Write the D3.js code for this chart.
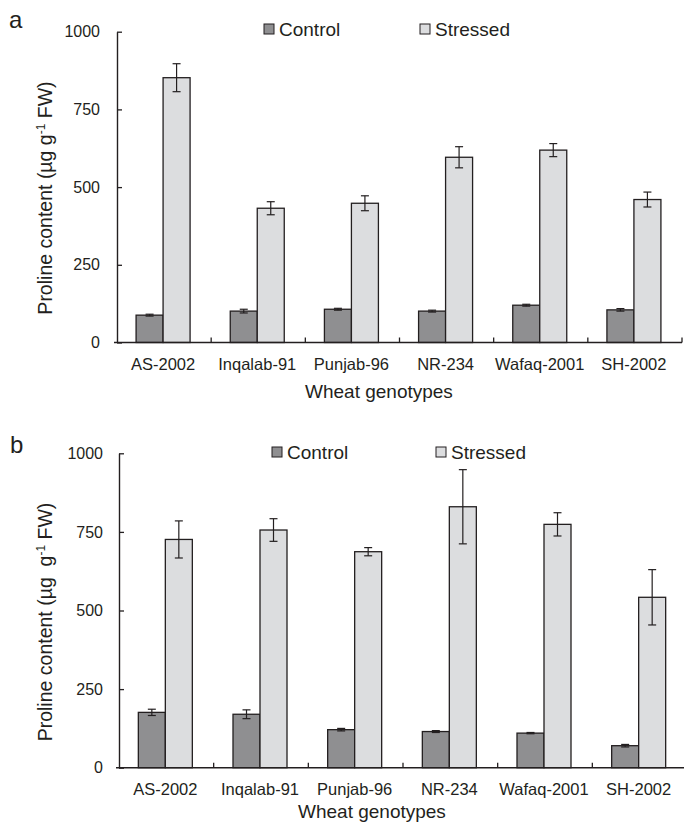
<!DOCTYPE html>
<html>
<head>
<meta charset="utf-8">
<script src="https://cdn.jsdelivr.net/npm/d3@7"></script>
<style>
html,body{margin:0;padding:0;background:#fff;}
svg{display:block;}
text{font-family:"Liberation Sans",Arial,sans-serif;fill:#231f20;}
</style>
</head>
<body>
<svg id="chart" width="684" height="824"></svg>
<script>
const categories = ["AS-2002","Inqalab-91","Punjab-96","NR-234","Wafaq-2001","SH-2002"];
const seriesNames = ["Control","Stressed"];
const yTicks = [0,250,500,750,1000];

// Panel a
const controlA = [88, 101, 107, 101, 120, 105];
const controlAErr = [3, 6, 3, 3, 3, 4];
const stressedA = [852, 432, 448, 596, 619, 460];
const stressedAErr = [45, 21, 24, 34, 21, 24];

// Panel b
const controlB = [176, 170, 121, 115, 110, 70];
const controlBErr = [10, 14, 4, 3, 2, 4];
const stressedB = [726, 756, 687, 830, 774, 542];
const stressedBErr = [59, 36, 13, 118, 37, 88];

const colors = {Control:"#8f8f91", Stressed:"#dcdddf"};
const ink = "#231f20";
const svg = d3.select("#chart");

function panel(cfg){
  const g = svg.append("g");
  const x = d3.scaleBand().domain(categories).range([cfg.x0, cfg.x1]).padding(0);
  const y = d3.scaleLinear().domain([0,1000]).range([cfg.y0, cfg.y1]);
  const xs = d3.scaleBand().domain(seriesNames).range([-27,27]).padding(0);

  const rows = categories.map((c,i)=>({
    cat:c,
    vals:[
      {s:"Control", v:cfg.control[i], e:cfg.controlErr[i]},
      {s:"Stressed", v:cfg.stressed[i], e:cfg.stressedErr[i]}
    ]
  }));

  const cg = g.selectAll("g.cat").data(rows).join("g")
    .attr("transform", d=>`translate(${x(d.cat)+x.bandwidth()/2 - 1},0)`);

  cg.selectAll("rect").data(d=>d.vals).join("rect")
    .attr("x", d=>xs(d.s))
    .attr("width", xs.bandwidth())
    .attr("y", d=>y(d.v))
    .attr("height", d=>y(0)-y(d.v))
    .attr("fill", d=>colors[d.s])
    .attr("stroke", ink).attr("stroke-width",1.3);

  const eb = cg.selectAll("g.eb").data(d=>d.vals).join("g")
    .attr("stroke", ink).attr("stroke-width",1.2);
  eb.append("line")
    .attr("x1", d=>xs(d.s)+xs.bandwidth()/2).attr("x2", d=>xs(d.s)+xs.bandwidth()/2)
    .attr("y1", d=>y(d.v+d.e)).attr("y2", d=>y(d.v-d.e));
  eb.append("line")
    .attr("x1", d=>xs(d.s)+xs.bandwidth()/2-4).attr("x2", d=>xs(d.s)+xs.bandwidth()/2+4)
    .attr("y1", d=>y(d.v+d.e)).attr("y2", d=>y(d.v+d.e));
  eb.append("line")
    .attr("x1", d=>xs(d.s)+xs.bandwidth()/2-4).attr("x2", d=>xs(d.s)+xs.bandwidth()/2+4)
    .attr("y1", d=>y(d.v-d.e)).attr("y2", d=>y(d.v-d.e));

  // y axis
  const ya = g.append("g").attr("transform",`translate(${cfg.x0},0)`)
    .call(d3.axisLeft(y).tickValues(yTicks).tickFormat(d3.format("d")).tickSize(-5).tickSizeOuter(0).tickPadding(cfg.tickPad));
  ya.select(".domain").attr("stroke",ink).attr("stroke-width",1.4);
  ya.selectAll(".tick line").attr("stroke",ink).attr("stroke-width",1.3);
  ya.selectAll(".tick text").attr("font-size",16).attr("font-family","Liberation Sans, Arial, sans-serif").attr("fill",ink);

  // x axis
  g.append("line").attr("x1",cfg.x0-3).attr("x2",cfg.x1).attr("y1",y(0)).attr("y2",y(0))
    .attr("stroke",ink).attr("stroke-width",1.4);
  g.selectAll("line.xt").data(categories.slice(1)).join("line")
    .attr("x1",d=>x(d)).attr("x2",d=>x(d)).attr("y1",y(0)).attr("y2",y(0)-5)
    .attr("stroke",ink).attr("stroke-width",1.3);
  g.append("line").attr("x1",cfg.x1).attr("x2",cfg.x1).attr("y1",y(0)).attr("y2",y(0)-5)
    .attr("stroke",ink).attr("stroke-width",1.3);
  g.selectAll("text.xl").data(categories).join("text")
    .attr("x",d=>x(d)+x.bandwidth()/2-1).attr("y",cfg.catY)
    .attr("text-anchor","middle").attr("font-size",16.5).text(d=>d);

  // axis titles
  g.append("text").attr("x",cfg.xTitleX).attr("y",cfg.xTitleY)
    .attr("font-size",19).text("Wheat genotypes");
  const yt = g.append("text").attr("transform",`translate(${cfg.yTitleX},${cfg.yTitleY}) rotate(-90)`)
    .attr("text-anchor","middle").attr("font-size",19.5).attr("xml:space","preserve");
  yt.append("tspan").text("Proline content (µg" + cfg.gap + "g");
  yt.append("tspan").attr("dy",-7).attr("font-size",12).text("-1");
  yt.append("tspan").attr("dy",7).text(" FW)");

  // legend
  seriesNames.forEach((s,i)=>{
    const lx = cfg.legX[i];
    g.append("rect").attr("x",lx).attr("y",cfg.legY-12).attr("width",10).attr("height",10)
      .attr("fill",colors[s]).attr("stroke",ink).attr("stroke-width",1);
    g.append("text").attr("x",lx+15).attr("y",cfg.legY).attr("font-size",19).text(s);
  });

  // panel label
  g.append("text").attr("x",cfg.labX).attr("y",cfg.labY).attr("font-size",24).text(cfg.label);
}

panel({label:"a", labX:9, labY:28,
  x0:117, x1:682, y0:342.5, y1:31.7, tickPad:17,
  control:controlA, controlErr:controlAErr, stressed:stressedA, stressedErr:stressedAErr,
  catY:370, xTitleX:305, xTitleY:398, yTitleX:52, yTitleY:198, gap:" ",
  legX:[264,420], legY:36});

panel({label:"b", labX:10, labY:453,
  x0:119, x1:687, y0:767.7, y1:453.3, tickPad:16,
  control:controlB, controlErr:controlBErr, stressed:stressedB, stressedErr:stressedBErr,
  catY:795, xTitleX:298, xTitleY:818, yTitleX:52, yTitleY:622, gap:"  ",
  legX:[272,436], legY:459});
</script>
</body>
</html>
